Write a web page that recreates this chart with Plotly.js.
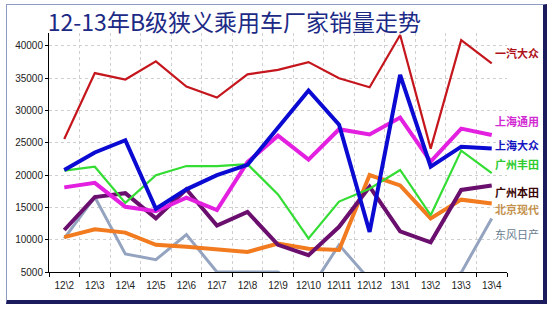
<!DOCTYPE html>
<html>
<head>
<meta charset="utf-8">
<script src="https://cdn.plot.ly/plotly-3.0.1.min.js"></script>
<style>
  html, body { margin: 0; padding: 0; background: #ffffff; }
  #wrap { position: relative; width: 550px; height: 310px; overflow: hidden; }
  #frame { position: absolute; left: 6px; top: 4px; width: 536px; height: 295px;
           border-left: 1px solid #8d9bc2; border-top: 1px solid #8d9bc2;
           border-right: 4px solid #1b1b5e; border-bottom: 4px solid #1b1b5e; }
  #chart { position: absolute; left: 0; top: 0; width: 550px; height: 310px; }
</style>
</head>
<body>
<div id="wrap">
  <div id="frame"></div>
  <div id="chart"></div>
</div>
<script>
// ---- data ----
var months = ["12\\2","12\\3","12\\4","12\\5","12\\6","12\\7","12\\8","12\\9","12\\10","12\\11","12\\12","13\\1","13\\2","13\\3","13\\4"];

var seriesNames = ["一汽大众","上海通用","上海大众","广州丰田","广州本田","北京现代","东风日产"];

var fawVW      = [25600, 35800, 34800, 37600, 33700, 32000, 35600, 36300, 37500, 35000, 33600, 41700, 24100, 40900, 37300];
var shanghaiGM = [18100, 18800, 15100, 14400, 16500, 14600, 22000, 26100, 22400, 27100, 26300, 28900, 22100, 27200, 26200];
var shanghaiVW = [20800, 23500, 25400, 14800, 17800, 20000, 21600, 27400, 33100, 27800, 11200, 35500, 21300, 24400, 24100];
var gzToyota   = [20700, 21300, 15700, 20000, 21400, 21400, 21700, 17000, 10200, 15900, 17900, 20800, 13800, 23800, 20300];
var gzHonda    = [11500, 16600, 17200, 13300, 17800, 12200, 14300, 9200, 7600, 12000, 18200, 11300, 9600, 17700, 18400];
var bjHyundai  = [10400, 11600, 11100, 9200, 8900, 8500, 8100, 9400, 8600, 8400, 20000, 18400, 13300, 16200, 15600];
var dfNissan   = [10200, 16600, 7800, 6900, 10800, 5000, 5000, 5000, 1900, 9200, 3800, 3000, 3500, 4900, 13300];

var yTicks = [5000, 10000, 15000, 20000, 25000, 30000, 35000, 40000];
var titleText = "12-13年B级狭义乘用车厂家销量走势";

// ---- styles ----
var seriesValues = [fawVW, shanghaiGM, shanghaiVW, gzToyota, gzHonda, bjHyundai, dfNissan];
var lineColors  = ["#c4161c", "#e31fe0", "#0a0ad2", "#33dd33", "#6b0f6e", "#f27a1f", "#94a3bf"];
var lineWidths  = [2.2, 4, 4, 2.2, 4, 4, 3];
var labelColors = ["#b0121a", "#d22ad2", "#1414c0", "#2ecc2e", "#3a0606", "#c4914e", "#687c8e"];
var labelBold   = [true, true, true, true, true, true, false];
var labelY      = [0.917, 0.632, 0.530, 0.452, 0.334, 0.264, 0.160];
var drawOrder   = [6, 5, 4, 3, 1, 2, 0];

var traces = drawOrder.map(function (i) {
  return {
    type: "scatter",
    mode: "lines",
    x: months,
    y: seriesValues[i],
    name: seriesNames[i],
    line: { color: lineColors[i], width: lineWidths[i] },
    hoverinfo: "x+y+name"
  };
});

var annotations = seriesNames.map(function (n, i) {
  return {
    xref: "paper", yref: "paper",
    x: 0.969, y: labelY[i],
    xanchor: "left", yanchor: "middle",
    text: labelBold[i] ? "<b>" + n + "</b>" : n,
    showarrow: false,
    font: { family: "Noto Sans CJK SC", size: 11, color: labelColors[i] }
  };
});

var layout = {
  width: 550, height: 310,
  paper_bgcolor: "rgba(0,0,0,0)",
  plot_bgcolor: "#ffffff",
  showlegend: false,
  margin: { l: 49, r: 43, t: 33, b: 38, pad: 0 },
  title: {
    text: titleText,
    xref: "container", yref: "container",
    x: 0.087, xanchor: "left",
    y: 0.925, yanchor: "middle",
    font: { family: "Noto Sans CJK SC", size: 23, color: "#1c2a86", weight: 400 }
  },
  xaxis: {
    type: "category",
    categoryorder: "array",
    categoryarray: months,
    range: [-0.5, months.length - 0.5],
    tickson: "boundaries",
    tickangle: 0,
    ticks: "outside", ticklen: 4, tickcolor: "#000", tickwidth: 1,
    ticklabelstandoff: 4,
    showline: true, linecolor: "#000", linewidth: 1,
    showgrid: true, gridcolor: "#cfcfcf", griddash: "dot", gridwidth: 1,
    tickfont: { family: "Liberation Sans", size: 10, color: "#222" },
    fixedrange: true
  },
  yaxis: {
    range: [5000, 42000],
    tickvals: yTicks,
    ticktext: yTicks.map(String),
    ticks: "outside", ticklen: 3, tickcolor: "#000",
    showline: true, linecolor: "#000", linewidth: 1,
    showgrid: true, gridcolor: "#cfcfcf", griddash: "dot", gridwidth: 1,
    zeroline: false,
    tickfont: { family: "Liberation Sans", size: 10, color: "#222" },
    fixedrange: true
  },
  annotations: annotations
};

Plotly.newPlot("chart", traces, layout, { displayModeBar: false, staticPlot: true });
</script>
</body>
</html>
